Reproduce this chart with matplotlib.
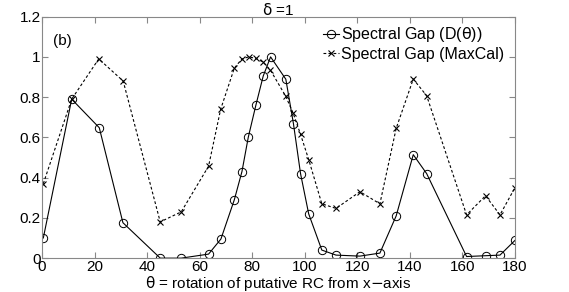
import matplotlib
matplotlib.use('Agg')
from matplotlib import pyplot as plt

plt.rcParams['font.family'] = ['Liberation Sans', 'DejaVu Sans']

# spectral gap from D(theta)
theta_d = [0.5, 11.3, 21.8, 30.8, 45.0, 53.0, 63.4, 68.1, 73.2, 76.1, 78.5, 81.4,
           84.2, 87.0, 92.8, 95.7, 98.4, 101.5, 106.5, 111.9, 121.0, 128.6,
           134.8, 141.3, 146.4, 161.6, 168.8, 174.3, 180.0]
gap_d = [0.10, 0.79, 0.648, 0.176, 0.0, 0.0, 0.02, 0.095, 0.29, 0.43, 0.60, 0.76,
         0.905, 1.0, 0.889, 0.668, 0.42, 0.22, 0.04, 0.015, 0.01, 0.025,
         0.21, 0.514, 0.42, 0.008, 0.012, 0.015, 0.088]

# spectral gap from MaxCal
theta_m = [0.5, 11.3, 21.6, 30.9, 45.0, 53.0, 63.4, 68.0, 73.2, 76.0, 78.6, 81.3,
           84.1, 86.9, 92.7, 95.6, 98.4, 101.5, 106.5, 111.9, 121.0, 128.6,
           134.8, 141.3, 146.4, 161.6, 168.8, 174.3, 180.0]
gap_m = [0.37, 0.79, 0.99, 0.88, 0.18, 0.23, 0.457, 0.74, 0.944, 0.989, 1.0, 0.993,
         0.975, 0.935, 0.806, 0.72, 0.615, 0.49, 0.27, 0.247, 0.33, 0.27,
         0.645, 0.89, 0.807, 0.215, 0.31, 0.215, 0.35]

fig = plt.figure(figsize=(5.69, 2.92), dpi=100)
ax = fig.add_axes([0.0738, 0.116, 0.8312, 0.827])

ax.plot(theta_d, gap_d, '-o', color='k', lw=0.8, ms=6, mfc='none', mew=0.7,
        label=r'Spectral Gap (D($\mathrm{\theta}$))')
ax.plot(theta_m, gap_m, '--x', color='k', lw=0.8, ms=4, mew=0.8,
        dashes=(2.5, 2), label='Spectral Gap (MaxCal)')

ax.set_xlim(0, 180)
ax.set_ylim(0, 1.2)
ax.set_xticks(range(0, 181, 20))
ax.set_yticks([0, 0.2, 0.4, 0.6, 0.8, 1.0, 1.2])
ax.set_yticklabels(['0', '0.2', '0.4', '0.6', '0.8', '1', '1.2'])
ax.tick_params(direction='in', top=True, right=True, labelsize=11, length=4,
               color='#888888', pad=1)
for s in ax.spines.values():
    s.set_color('#888888')
    s.set_linewidth(0.8)

ax.text(4, 1.06, '(b)', fontsize=11)
ax.set_title(r'$\mathrm{\delta}$ =1', fontsize=11, pad=1)
ax.set_xlabel(r'$\mathrm{\theta}$ = rotation of putative RC from x$-$axis',
              fontsize=11, labelpad=0)

ax.legend(loc='upper right', frameon=False, fontsize=11.5, handlelength=1.0,
          handletextpad=0.1, borderaxespad=0.3, labelspacing=0.15,
          bbox_to_anchor=(1.0, 1.01))

fig.savefig('out.png', dpi=100)
